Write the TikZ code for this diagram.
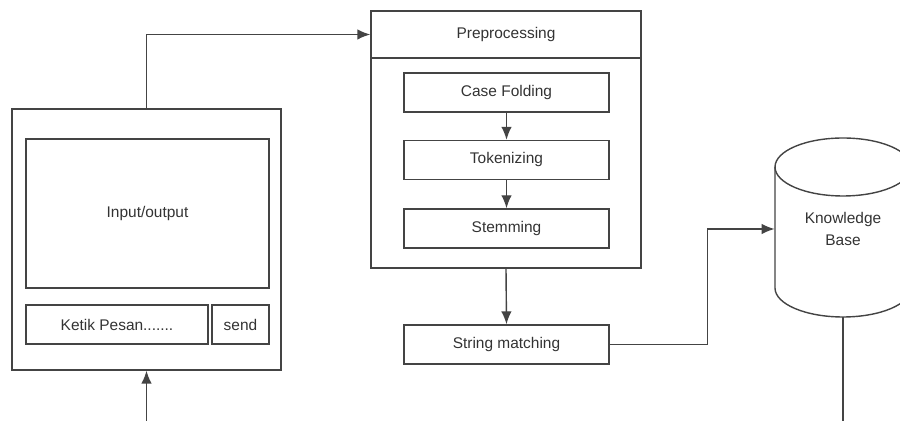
\documentclass[tikz,border=0pt]{standalone}
\usepackage{fontspec}
\setmainfont{Liberation Sans}
\usetikzlibrary{arrows.meta}

\definecolor{linegray}{HTML}{444444}
\definecolor{textgray}{HTML}{333333}

\tikzstyle{box} = [rectangle,draw=linegray,line width=0.8pt,inner sep=0pt,text=textgray,font=\fontsize{8.8}{12.5}\selectfont]
\tikzstyle{link} = [draw=linegray,line width=0.8pt,-{Latex[length=2.6mm,width=2.1mm]}]

\begin{document}
\begin{tikzpicture}[x=0.02cm,y=-0.02cm]
	\path[use as bounding box,clip] (0,0) rectangle (900,421);

	% chat window
	\node[box,minimum width=5.38cm,minimum height=5.22cm] (app) at (146.5,239.5) {};
	\node[box,minimum width=4.86cm,minimum height=2.98cm] (screen) at (147.5,213.5) {Input/output};
	\node[box,minimum width=3.64cm,minimum height=0.78cm] (pesan) at (117,324.5) {Ketik Pesan.......};
	\node[box,minimum width=1.14cm,minimum height=0.78cm] (send) at (240.5,324.5) {send};

	% preprocessing
	\node[box,minimum width=5.4cm,minimum height=0.94cm] (prephead) at (506,34.5) {Preprocessing};
	\node[box,minimum width=5.4cm,minimum height=4.2cm] (prepbody) at (506,163) {};
	\node[box,minimum width=4.1cm,minimum height=0.78cm] (casefold) at (506.5,92.5) {Case Folding};
	\node[box,minimum width=4.1cm,minimum height=0.78cm] (token) at (506.5,160) {Tokenizing};
	\node[box,minimum width=4.1cm,minimum height=0.78cm] (stem) at (506.5,228.5) {Stemming};
	\node[box,minimum width=4.1cm,minimum height=0.78cm] (match) at (506.5,344.5) {String matching};

	% knowledge base
	\draw[draw=linegray,line width=0.8pt] (775,167) -- (775,288) arc[start angle=180,end angle=360,x radius=1.36cm,y radius=0.58cm] -- (911,167);
	\draw[draw=linegray,line width=0.8pt] (843,167) ellipse [x radius=1.36cm,y radius=0.58cm];
	\node[text=textgray,align=center,inner sep=0pt,minimum width=2.72cm,font=\fontsize{8.8}{12.5}\selectfont] (kb) at (843,229) {Knowledge\\Base};
	\coordinate (kbbot) at (843,317);

	\draw[link] (app.north) |- (prephead.west);
	\draw[link] (casefold) -- (token);
	\draw[link] (token) -- (stem);
	\draw[link] (prepbody.south) -- (match.north);
	\draw[link] (match.east) -- ++(98,0) |- (kb.west);
	\draw[link] (kbbot) -- (843,440) -| (app.south);
\end{tikzpicture}
\end{document}
